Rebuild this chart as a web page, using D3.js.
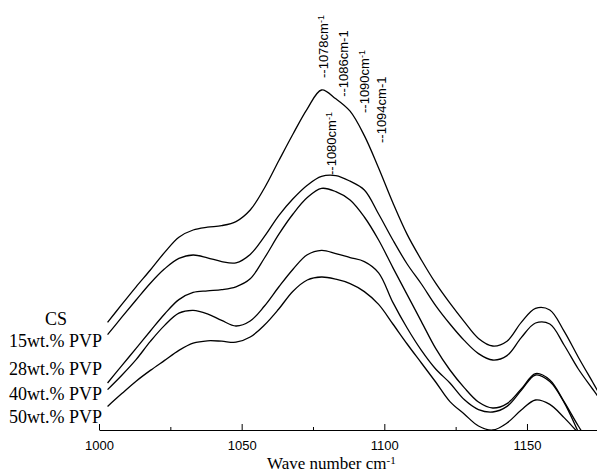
<!DOCTYPE html>
<html>
<head>
<meta charset="utf-8">
<script src="https://cdn.jsdelivr.net/npm/d3@7"></script>
<style>
  body { margin: 0; background: #fff; }
</style>
</head>
<body>
<div id="chart"></div>
<script>
/* FTIR spectra of CS / PVP blends, 1000-1175 cm-1 */

// Wave numbers (cm-1) shared by every spectrum
var WAVENUMBERS = [1003, 1008, 1013, 1018, 1023, 1028, 1033, 1038, 1043, 1048,
  1053, 1058, 1063, 1068, 1073, 1078, 1083, 1088, 1093, 1098,
  1103, 1108, 1113, 1118, 1123, 1128, 1133, 1138, 1143, 1148,
  1153, 1158, 1163, 1168, 1173, 1175];

// Absorbance (arbitrary units, offset spectra)
var CS = [26.9, 31.4, 35.8, 40.0, 44.4, 48.2, 50.0, 50.7, 51.1, 52.1,
  55.0, 60.5, 67.3, 74.0, 80.3, 85.0, 82.8, 79.7, 73.6, 65.5,
  56.8, 48.9, 42.5, 36.7, 31.7, 27.1, 22.9, 21.0, 22.2, 26.9,
  30.4, 30.0, 24.7, 18.2, 12.0, 9.5];
var PVP15 = [23.85, 28.2, 32.5, 36.7, 40.3, 42.9, 43.75, 43.05, 42.1, 41.8,
  43.9, 48.4, 53.6, 57.8, 61.2, 63.4, 63.6, 62.2, 60.0, 54.0,
  47.5, 41.5, 36.5, 31.1, 26.5, 22.4, 19.1, 17.5, 18.6, 23.1,
  26.75, 26.5, 21.25, 15.25, 10.25, 8.25];
var PVP28 = [11.75, 16.1, 20.4, 24.75, 29.0, 32.6, 34.4, 34.8, 35.1, 35.8,
  37.8, 43.0, 48.9, 54.0, 58.1, 60.4, 59.6, 57.5, 53.25, 47.5,
  40.6, 33.85, 27.1, 20.4, 15.0, 10.6, 7.0, 5.5, 6.6, 10.25,
  14.1, 12.5, 7.1, 1.0, -4.5, -6.5];
var PVP40 = [10.1, 13.7, 17.6, 22.15, 26.15, 29.2, 29.9, 29.05, 27.4, 26.0,
  27.25, 31.0, 35.75, 40.2, 43.8, 44.9, 44.1, 43.1, 42.1, 39.3,
  31.9, 25.5, 19.9, 15.25, 11.75, 7.6, 5.1, 4.5, 5.9, 9.9,
  13.75, 12.1, 6.9, -0.5, -8, -10];
var PVP50 = [5.9, 9.1, 12.2, 14.9, 17.4, 19.9, 21.7, 22.3, 22.2, 21.95,
  23.25, 26.25, 30.25, 34.7, 37.5, 38.25, 37.7, 36.6, 34.6, 31.4,
  26.5, 21.5, 16.75, 12.0, 7.1, 4.0, 1.0, 0.0, 1.75, 5.0,
  7.5, 6.4, 3.1, -0.75, -5, -6];

var SERIES = [CS, PVP15, PVP28, PVP40, PVP50];
var SERIES_LABELS = ["CS", "15wt.% PVP", "28wt.% PVP", "40wt.% PVP", "50wt.% PVP"];

// Axis ticks
var MAJOR_TICKS = [1000, 1050, 1100, 1150];
var MINOR_TICKS = [1025, 1075, 1125];

// Peak annotations: label, wave number where the label sits, absorbance at its foot
var PEAK_TEXT = ["1078", "1086", "1090", "1094", "1080"];
var PEAK_WN = [1078.6, 1085.6, 1093.2, 1099.0, 1081.5];
var PEAK_FOOT = [88.0, 83.3, 79.25, 71.75, 63.75];
var PEAK_SUPERSCRIPT = [true, false, true, false, true];

// layout
var W = 597, H = 474;
var AXIS_Y = 430;
var LABEL_BASELINES = [325, 347, 375, 400, 423];
var SERIF = "'Liberation Serif', 'Times New Roman', Times, serif";
var SANS = "'Liberation Sans', Arial, Helvetica, sans-serif";

var svg = d3.select("#chart").append("svg")
  .attr("width", W)
  .attr("height", H);

var x = d3.scaleLinear().domain([1000, 1175]).range([99, 598.3]);
var y = d3.scaleLinear().domain([0, 100]).range([AXIS_Y, 30]);

svg.append("defs").append("clipPath").attr("id", "plotClip")
  .append("rect")
  .attr("x", 0).attr("y", 0)
  .attr("width", W).attr("height", AXIS_Y);

// spectra
var line = d3.line()
  .x(function(d, i) { return x(WAVENUMBERS[i]); })
  .y(function(d) { return y(d); })
  .curve(d3.curveCatmullRom.alpha(0.5));

var specGroup = svg.append("g").attr("clip-path", "url(#plotClip)");
SERIES.forEach(function(values) {
  specGroup.append("path")
    .datum(values)
    .attr("d", line)
    .attr("fill", "none")
    .attr("stroke", "#000")
    .attr("stroke-width", 1.3);
});

// x axis, ticks pointing inward
var gx = svg.append("g")
  .attr("transform", "translate(0," + AXIS_Y + ")")
  .call(d3.axisBottom(x)
    .tickValues(MAJOR_TICKS)
    .tickSize(-6)
    .tickSizeOuter(0)
    .tickPadding(11)
    .tickFormat(d3.format("d")));
gx.select(".domain").attr("stroke", "#000").attr("stroke-width", 1.2);
gx.selectAll(".tick line").attr("stroke", "#000");
gx.selectAll(".tick text")
  .attr("fill", "#000")
  .attr("font-family", SANS)
  .attr("font-size", "13px");

var gMinor = svg.append("g")
  .attr("transform", "translate(0," + AXIS_Y + ")")
  .call(d3.axisBottom(x).tickValues(MINOR_TICKS).tickSize(-3).tickFormat(""));
gMinor.select(".domain").remove();
gMinor.selectAll(".tick line").attr("stroke", "#000");

// axis title
var title = svg.append("text")
  .attr("x", 267)
  .attr("y", 469)
  .attr("font-family", SERIF)
  .attr("font-size", "17px")
  .attr("fill", "#000");
title.append("tspan").text("Wave number cm");
title.append("tspan").attr("dy", "-0.5em").attr("font-size", "11px").text("-1");

// series labels on the left
SERIES_LABELS.forEach(function(lbl, i) {
  svg.append("text")
    .attr("x", i === 0 ? 56 : 102)
    .attr("y", LABEL_BASELINES[i])
    .attr("text-anchor", i === 0 ? "middle" : "end")
    .attr("font-family", SERIF)
    .attr("font-size", "18px")
    .attr("fill", "#000")
    .text(lbl);
});

// peak annotations, rotated
PEAK_TEXT.forEach(function(t, i) {
  var px = x(PEAK_WN[i]), py = y(PEAK_FOOT[i]);
  var txt = svg.append("text")
    .attr("transform", "translate(" + px + "," + py + ") rotate(-90)")
    .attr("font-family", SANS)
    .attr("font-size", "13px")
    .attr("fill", "#000");
  txt.append("tspan").attr("dy", "0.35em").text("--" + t + "cm");
  if (PEAK_SUPERSCRIPT[i]) {
    txt.append("tspan").attr("dy", "-0.45em").attr("font-size", "9px").text("-1");
  } else {
    txt.append("tspan").text("-1");
  }
});
</script>
</body>
</html>
